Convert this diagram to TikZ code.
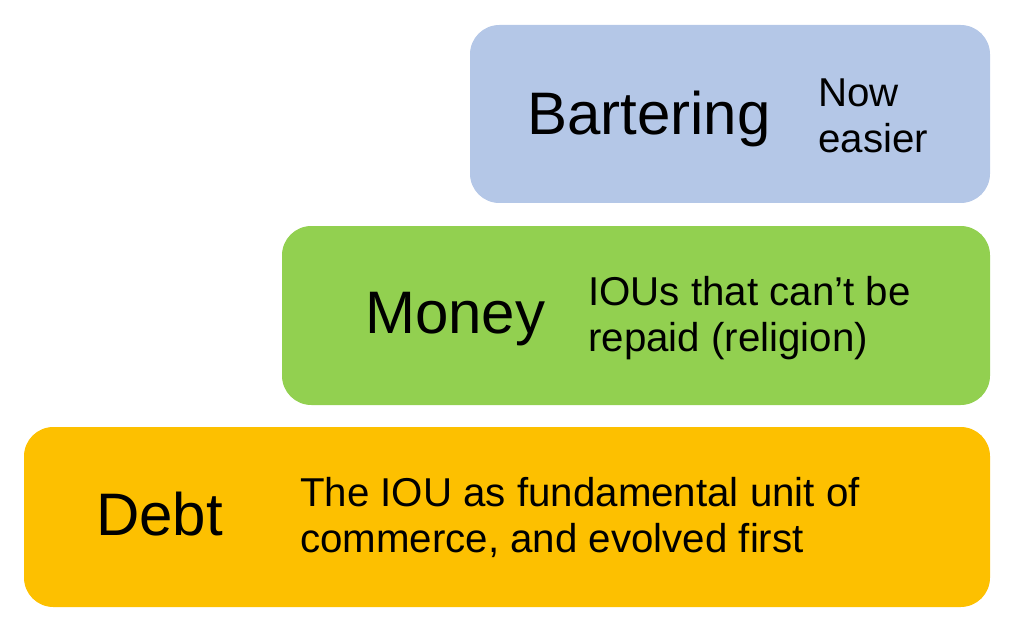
\documentclass[tikz,border=0pt]{standalone}
\usepackage{fontspec}
\setmainfont{Liberation Sans}
\definecolor{barter}{HTML}{B4C7E7}
\definecolor{money}{HTML}{92D050}
\definecolor{debt}{HTML}{FDC000}
\begin{document}
\begin{tikzpicture}[x=0.75pt,y=-0.75pt,
  level/.style={rectangle,rounded corners=22pt,draw=none,inner sep=0pt},
  big/.style={inner sep=0pt,anchor=base west,font=\fontsize{45}{50}\selectfont},
  small/.style={inner sep=0pt,anchor=base west,align=left,font=\fontsize{30.2}{34.5}\selectfont}]
\useasboundingbox (0,0) rectangle (1010,624);
\node[level,fill=barter,minimum width=390pt,minimum height=133.5pt] (bbox) at (730,114) {};
\node[level,fill=money,minimum width=531pt,minimum height=134.25pt] (mbox) at (636,315.5) {};
\node[level,fill=debt,minimum width=724.5pt,minimum height=135pt] (dbox) at (507,517) {};
\node[big] (bt) at (527,135) {Bartering};
\node[small] (bs) at (818,153) {Now\\easier};
\node[big] (mt) at (365,333) {Money};
\node[small] (ms) at (588,351) {IOUs that can’t be\\repaid (religion)};
\node[big] (dt) at (96,535) {Debt};
\node[small] (ds) at (300,552) {The IOU as fundamental unit of\\commerce, and evolved first};
\end{tikzpicture}
\end{document}
